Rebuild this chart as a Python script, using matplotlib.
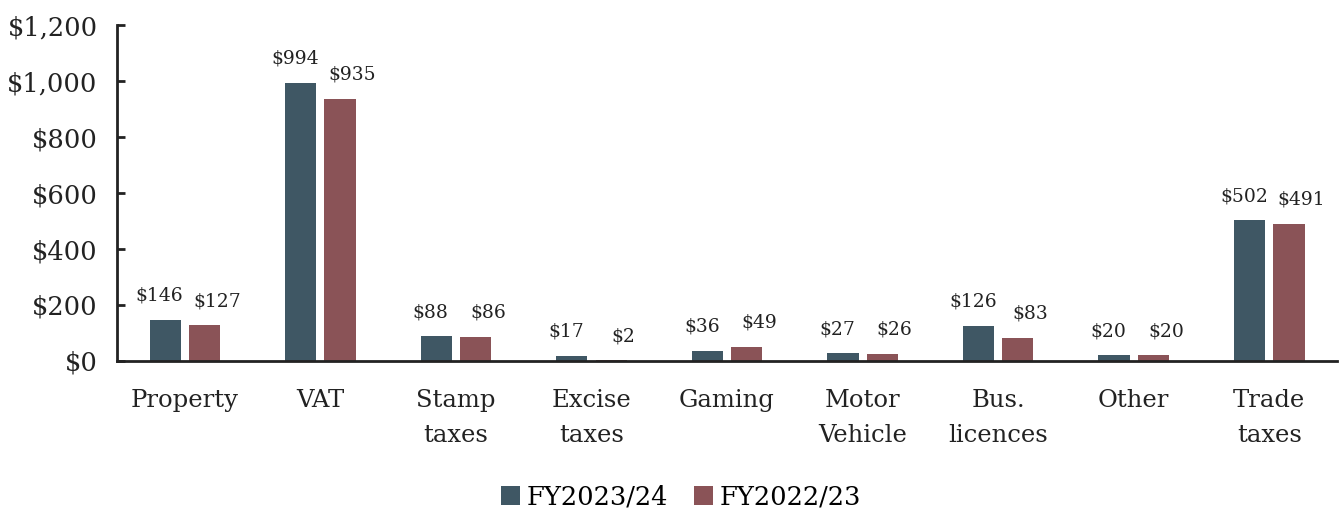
import numpy as np
import matplotlib.pyplot as plt

# tax revenue by category, $ millions
categories = ["Property", "VAT", "Stamp\ntaxes", "Excise\ntaxes", "Gaming",
              "Motor\nVehicle", "Bus.\nlicences", "Other", "Trade\ntaxes"]
fy2024 = [146, 994, 88, 17, 36, 27, 126, 20, 502]
fy2023 = [127, 935, 86, 2, 49, 26, 83, 20, 491]
series_names = ["FY2023/24", "FY2022/23"]
colors = ["#3f5764", "#8a5357"]

plt.rcParams["font.family"] = ["DejaVu Serif"]

fig = plt.figure(figsize=(13.4, 5.12), dpi=100)
ax = fig.add_axes([0.0873, 0.295, 0.9105, 0.656])

x = np.arange(len(categories))
w = 0.23
off = 0.145
b1 = ax.bar(x - off, fy2024, w, color=colors[0], label=series_names[0])
b2 = ax.bar(x + off, fy2023, w, color=colors[1], label=series_names[1])

# value labels, nudged apart so neighbours don't collide
for bars, vals, dx in [(b1, fy2024, -4), (b2, fy2023, 9)]:
    for rect, v in zip(bars, vals):
        ax.annotate(f"${v:,}", (rect.get_x() + rect.get_width() / 2, v),
                    xytext=(dx, 11), textcoords="offset points",
                    ha="center", va="bottom", fontsize=13.5, color="#222222")

ax.set_xlim(-0.5, len(categories) - 0.5)
ax.set_ylim(0, 1200)
ax.set_yticks(range(0, 1201, 200))
ax.set_yticklabels([f"${v:,}" for v in range(0, 1201, 200)])
ax.set_xticks(x)
ax.set_xticklabels(categories, linespacing=1.7)

for s in ["top", "right"]:
    ax.spines[s].set_visible(False)
for s in ["left", "bottom"]:
    ax.spines[s].set_linewidth(2)
    ax.spines[s].set_color("#222222")

ax.tick_params(axis="y", direction="in", length=6, width=2, labelsize=18.5,
               colors="#222222", pad=14)
ax.tick_params(axis="x", length=0, labelsize=17.5, colors="#222222", pad=20)

fig.legend(loc="lower center", bbox_to_anchor=(0.508, -0.04), ncol=2,
           frameon=False, fontsize=18.5, handlelength=0.75, handleheight=0.75,
           handletextpad=0.25, columnspacing=1.0)

fig.savefig("out.png", dpi=100)
